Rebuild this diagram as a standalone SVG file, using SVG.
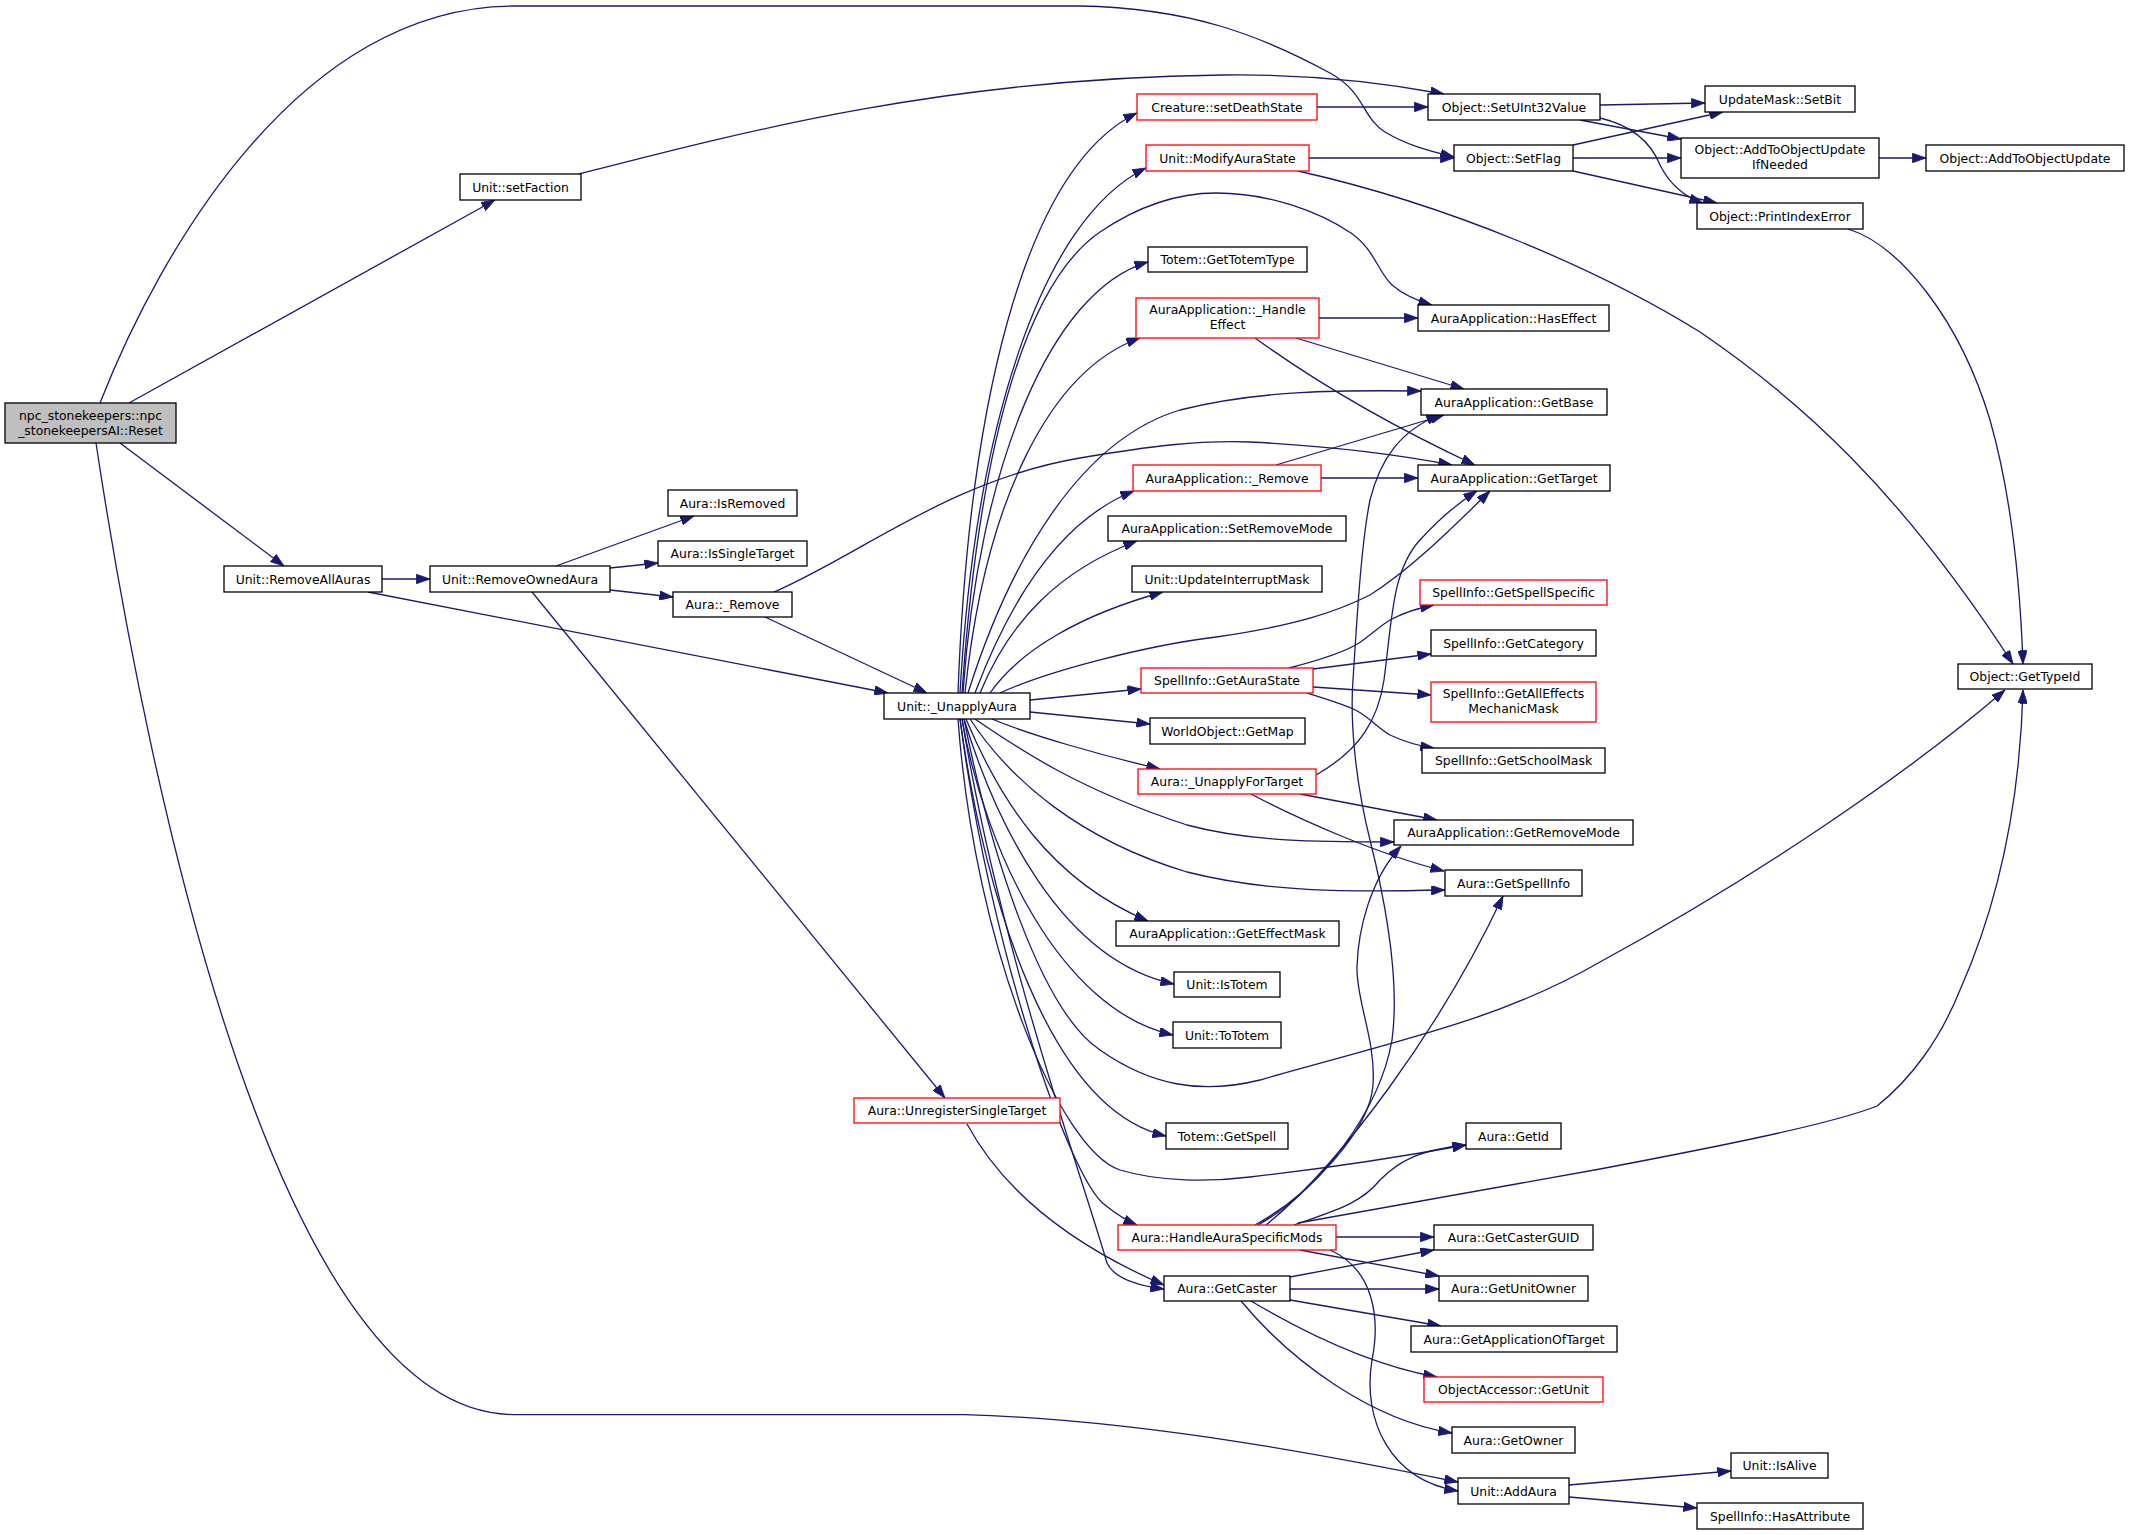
<svg xmlns="http://www.w3.org/2000/svg" width="2129" height="1535" viewBox="0 0 2129 1535">
<style>
.n rect{fill:#ffffff;stroke:#000000;stroke-width:1.3}
.n.r rect{stroke:#ff0000}
.n.root rect{fill:#bfbfbf}
.n text{font-family:"DejaVu Sans",sans-serif;font-size:12.4px;text-anchor:middle;fill:#000000}
#edges path{fill:none;stroke:#191970;stroke-width:1.3;marker-end:url(#a)}
</style>
<defs>
<marker id="a" viewBox="0 0 13.6 9.5" refX="13.6" refY="4.75" markerWidth="13.6" markerHeight="9.5" markerUnits="userSpaceOnUse" orient="auto">
<path d="M0,0 L13.6,4.75 L0,9.5 z" fill="#191970" stroke="#191970" stroke-width="0.8"/>
</marker>
</defs>
<rect x="0" y="0" width="2129" height="1535" fill="#ffffff"/>
<g id="edges">
<path d="M100,403 C160,250 300,6 514,6 L1080,6 C1190,8 1260,35 1330,73 C1365,92 1362,118 1385,132 C1405,144 1425,150 1454,157"/>
<path d="M129,403 L495,200"/>
<path d="M120,443 L284,566"/>
<path d="M96,443 C150,800 280,1414.6 514,1414.6 L965,1414.6 C1150,1420 1350,1460 1458,1482"/>
<path d="M579,174 C750,130 950,78 1223,75 C1300,74 1380,82 1444,94"/>
<path d="M382,579 L430,579"/>
<path d="M368,592 L888,693"/>
<path d="M556,566 L694,516"/>
<path d="M610,568 L658,563"/>
<path d="M610,590 L673,597"/>
<path d="M532,592 L945,1098"/>
<path d="M765,617 L927,693"/>
<path d="M774,592 C860,555 950,480 1080,458 C1150,446 1200,440 1250,442 C1330,446 1400,455 1452,465"/>
<path d="M958,693 C968,420 1020,170 1137,113"/>
<path d="M960,693 C975,430 1040,220 1146,168"/>
<path d="M962,693 C980,430 1030,280 1100,232 C1140,205 1180,193 1216,193 C1270,193 1320,212 1351,233 C1375,250 1378,272 1392,285 C1405,296 1418,301 1432,305"/>
<path d="M963,693 C978,470 1050,290 1148,262"/>
<path d="M965,693 C985,500 1050,370 1140,338"/>
<path d="M968,693 C1010,560 1080,440 1180,410 C1260,390 1340,390 1421,391"/>
<path d="M975,693 C1010,600 1060,520 1134,491"/>
<path d="M980,693 C1010,620 1060,570 1137,541"/>
<path d="M990,693 C1020,650 1080,615 1163,592"/>
<path d="M1000,693 C1050,670 1150,645 1216,637 C1300,625 1340,610 1370,595 C1410,570 1450,530 1490,491"/>
<path d="M1030,700 L1141,689"/>
<path d="M1030,712 L1150,724"/>
<path d="M992,719 C1030,735 1100,755 1160,769"/>
<path d="M975,719 C1020,750 1080,790 1187,825 C1250,842 1320,842 1394,842"/>
<path d="M970,719 C1010,780 1080,840 1187,872 C1270,893 1350,892 1445,890"/>
<path d="M966,719 C1000,800 1050,880 1148,921"/>
<path d="M964,719 C995,820 1060,960 1174,984"/>
<path d="M962,719 C985,850 1060,1010 1173,1035"/>
<path d="M960,719 C985,900 1050,1110 1166,1136"/>
<path d="M958,719 C975,950 1060,1150 1120,1170 C1160,1182 1210,1182 1250,1177 C1330,1168 1400,1157 1466,1145"/>
<path d="M960,719 C990,950 1070,1180 1105,1205 C1115,1213 1125,1220 1137,1225"/>
<path d="M962,719 C1000,950 1080,1170 1107,1263 C1115,1280 1140,1286 1164,1289"/>
<path d="M964,719 C990,850 1040,1010 1100,1050 C1150,1085 1200,1095 1260,1080 C1400,1040 1500,1020 1600,962 C1750,880 1900,780 2005,690"/>
<path d="M1300,794 L1437,820"/>
<path d="M1251,794 C1300,820 1380,855 1444,871"/>
<path d="M1316,775 C1360,750 1378,720 1384,680 C1392,620 1392,570 1420,540 C1440,518 1458,503 1477,491"/>
<path d="M1258,1225 C1320,1190 1380,1110 1392,1040 C1400,980 1385,900 1370,840 C1355,780 1350,720 1353,680 C1358,600 1362,540 1370,500 C1380,460 1400,430 1440,415"/>
<path d="M1255,1225 C1310,1195 1370,1130 1373,1085 C1376,1040 1356,1000 1357,967 C1358,930 1370,880 1401,846"/>
<path d="M1266,1225 C1340,1165 1440,1030 1503,896"/>
<path d="M1294,1225 C1330,1212 1360,1205 1380,1180 C1400,1160 1420,1150 1466,1145"/>
<path d="M1298,1223 L1600,1169 C1700,1150 1830,1125 1877,1106 C1910,1080 1940,1040 1960,990 C2000,900 2020,800 2023,690"/>
<path d="M1330,1250 C1375,1270 1380,1320 1372,1360 C1362,1420 1390,1480 1458,1491"/>
<path d="M1336,1237 L1434,1237"/>
<path d="M1300,1250 L1439,1276"/>
<path d="M1290,1277 L1434,1250"/>
<path d="M1290,1289 L1439,1289"/>
<path d="M1290,1300 L1441,1326"/>
<path d="M1251,1301 C1300,1330 1370,1365 1437,1377"/>
<path d="M1241,1301 C1290,1360 1370,1420 1452,1433"/>
<path d="M967,1124 C1000,1185 1060,1240 1164,1285"/>
<path d="M1569,1485 L1731,1471"/>
<path d="M1569,1497 L1697,1508"/>
<path d="M1317,107 L1428,107"/>
<path d="M1309,158 L1454,158"/>
<path d="M1298,171 C1450,205 1600,270 1700,332 C1800,400 1900,490 2013,664"/>
<path d="M1600,105 L1705,103"/>
<path d="M1580,120 L1681,139"/>
<path d="M1600,118 C1630,125 1650,140 1660,165 C1670,185 1685,197 1703,203"/>
<path d="M1573,145 L1723,112"/>
<path d="M1573,158 L1681,158"/>
<path d="M1573,171 L1717,203"/>
<path d="M1879,158 L1926,158"/>
<path d="M1848,229 C1900,245 1960,320 1990,420 C2010,490 2020,580 2023,664"/>
<path d="M1319,318 L1418,318"/>
<path d="M1296,338 L1464,389"/>
<path d="M1255,338 C1320,385 1400,430 1475,465"/>
<path d="M1321,478 L1418,478"/>
<path d="M1276,465 L1444,415"/>
<path d="M1289,668 C1320,660 1345,652 1359,643 C1372,634 1380,626 1390,620 C1405,612 1418,608 1434,605"/>
<path d="M1313,669 L1431,654"/>
<path d="M1313,687 L1431,695"/>
<path d="M1307,693 C1330,700 1350,706 1359,712 C1372,720 1378,728 1390,735 C1405,742 1418,746 1434,748"/>
</g>
<g id="n1" class="n root"><rect x="5" y="403" width="171" height="40"/><text x="90.5" y="419.5">npc_stonekeepers::npc</text><text x="90.5" y="434.5">_stonekeepersAI::Reset</text></g>
<g id="n2" class="n"><rect x="460" y="174" width="121" height="26"/><text x="520.5" y="191.5">Unit::setFaction</text></g>
<g id="n3" class="n"><rect x="224" y="566" width="158" height="26"/><text x="303" y="583.5">Unit::RemoveAllAuras</text></g>
<g id="n4" class="n"><rect x="430" y="566" width="180" height="26"/><text x="520" y="583.5">Unit::RemoveOwnedAura</text></g>
<g id="n5" class="n"><rect x="668" y="490" width="129" height="26"/><text x="732.5" y="507.5">Aura::IsRemoved</text></g>
<g id="n6" class="n"><rect x="658" y="541" width="149" height="25"/><text x="732.5" y="558">Aura::IsSingleTarget</text></g>
<g id="n7" class="n"><rect x="673" y="592" width="119" height="25"/><text x="732.5" y="609">Aura::_Remove</text></g>
<g id="n8" class="n"><rect x="884" y="693" width="146" height="26"/><text x="957" y="710.5">Unit::_UnapplyAura</text></g>
<g id="n9" class="n r"><rect x="854" y="1098" width="206" height="25"/><text x="957" y="1115">Aura::UnregisterSingleTarget</text></g>
<g id="n10" class="n r"><rect x="1137" y="94" width="180" height="26"/><text x="1227" y="111.5">Creature::setDeathState</text></g>
<g id="n11" class="n r"><rect x="1146" y="145" width="163" height="26"/><text x="1227.5" y="162.5">Unit::ModifyAuraState</text></g>
<g id="n12" class="n"><rect x="1148" y="247" width="159" height="25"/><text x="1227.5" y="264">Totem::GetTotemType</text></g>
<g id="n13" class="n r"><rect x="1136" y="298" width="183" height="40"/><text x="1227.5" y="314">AuraApplication::_Handle</text><text x="1227.5" y="329">Effect</text></g>
<g id="n14" class="n r"><rect x="1133" y="465" width="188" height="26"/><text x="1227" y="482.5">AuraApplication::_Remove</text></g>
<g id="n15" class="n"><rect x="1108" y="516" width="238" height="25"/><text x="1227" y="533">AuraApplication::SetRemoveMode</text></g>
<g id="n16" class="n"><rect x="1132" y="566" width="190" height="26"/><text x="1227" y="583.5">Unit::UpdateInterruptMask</text></g>
<g id="n17" class="n r"><rect x="1141" y="668" width="172" height="25"/><text x="1227" y="685">SpellInfo::GetAuraState</text></g>
<g id="n18" class="n"><rect x="1150" y="718" width="155" height="26"/><text x="1227.5" y="735.5">WorldObject::GetMap</text></g>
<g id="n19" class="n r"><rect x="1138" y="769" width="178" height="25"/><text x="1227" y="786">Aura::_UnapplyForTarget</text></g>
<g id="n20" class="n"><rect x="1116" y="921" width="223" height="25"/><text x="1227.5" y="938">AuraApplication::GetEffectMask</text></g>
<g id="n21" class="n"><rect x="1174" y="972" width="106" height="25"/><text x="1227" y="989">Unit::IsTotem</text></g>
<g id="n22" class="n"><rect x="1173" y="1022" width="108" height="26"/><text x="1227" y="1039.5">Unit::ToTotem</text></g>
<g id="n23" class="n"><rect x="1166" y="1123" width="122" height="26"/><text x="1227" y="1140.5">Totem::GetSpell</text></g>
<g id="n24" class="n r"><rect x="1118" y="1225" width="218" height="25"/><text x="1227" y="1242">Aura::HandleAuraSpecificMods</text></g>
<g id="n25" class="n"><rect x="1164" y="1276" width="126" height="25"/><text x="1227" y="1293">Aura::GetCaster</text></g>
<g id="n26" class="n"><rect x="1428" y="94" width="172" height="26"/><text x="1514" y="111.5">Object::SetUInt32Value</text></g>
<g id="n27" class="n"><rect x="1454" y="145" width="119" height="26"/><text x="1513.5" y="162.5">Object::SetFlag</text></g>
<g id="n28" class="n"><rect x="1418" y="305" width="191" height="26"/><text x="1513.5" y="322.5">AuraApplication::HasEffect</text></g>
<g id="n29" class="n"><rect x="1421" y="389" width="186" height="26"/><text x="1514" y="406.5">AuraApplication::GetBase</text></g>
<g id="n30" class="n"><rect x="1418" y="465" width="192" height="26"/><text x="1514" y="482.5">AuraApplication::GetTarget</text></g>
<g id="n31" class="n r"><rect x="1420" y="580" width="187" height="25"/><text x="1513.5" y="597">SpellInfo::GetSpellSpecific</text></g>
<g id="n32" class="n"><rect x="1431" y="630" width="165" height="26"/><text x="1513.5" y="647.5">SpellInfo::GetCategory</text></g>
<g id="n33" class="n r"><rect x="1431" y="682" width="165" height="40"/><text x="1513.5" y="698">SpellInfo::GetAllEffects</text><text x="1513.5" y="713">MechanicMask</text></g>
<g id="n34" class="n"><rect x="1422" y="748" width="183" height="25"/><text x="1513.5" y="765">SpellInfo::GetSchoolMask</text></g>
<g id="n35" class="n"><rect x="1394" y="820" width="239" height="25"/><text x="1513.5" y="837">AuraApplication::GetRemoveMode</text></g>
<g id="n36" class="n"><rect x="1445" y="870" width="137" height="26"/><text x="1513.5" y="887.5">Aura::GetSpellInfo</text></g>
<g id="n37" class="n"><rect x="1466" y="1123" width="95" height="26"/><text x="1513.5" y="1140.5">Aura::GetId</text></g>
<g id="n38" class="n"><rect x="1434" y="1225" width="159" height="25"/><text x="1513.5" y="1242">Aura::GetCasterGUID</text></g>
<g id="n39" class="n"><rect x="1439" y="1276" width="149" height="25"/><text x="1513.5" y="1293">Aura::GetUnitOwner</text></g>
<g id="n40" class="n"><rect x="1411" y="1326" width="206" height="26"/><text x="1514" y="1343.5">Aura::GetApplicationOfTarget</text></g>
<g id="n41" class="n r"><rect x="1424" y="1377" width="179" height="25"/><text x="1513.5" y="1394">ObjectAccessor::GetUnit</text></g>
<g id="n42" class="n"><rect x="1452" y="1427" width="123" height="26"/><text x="1513.5" y="1444.5">Aura::GetOwner</text></g>
<g id="n43" class="n"><rect x="1458" y="1478" width="111" height="26"/><text x="1513.5" y="1495.5">Unit::AddAura</text></g>
<g id="n44" class="n"><rect x="1705" y="86" width="150" height="26"/><text x="1780" y="103.5">UpdateMask::SetBit</text></g>
<g id="n45" class="n"><rect x="1681" y="138" width="198" height="40"/><text x="1780" y="154">Object::AddToObjectUpdate</text><text x="1780" y="169">IfNeeded</text></g>
<g id="n46" class="n"><rect x="1697" y="203" width="166" height="26"/><text x="1780" y="220.5">Object::PrintIndexError</text></g>
<g id="n47" class="n"><rect x="1731" y="1453" width="97" height="25"/><text x="1779.5" y="1470">Unit::IsAlive</text></g>
<g id="n48" class="n"><rect x="1697" y="1503" width="166" height="26"/><text x="1780" y="1520.5">SpellInfo::HasAttribute</text></g>
<g id="n49" class="n"><rect x="1958" y="664" width="134" height="25"/><text x="2025" y="681">Object::GetTypeId</text></g>
<g id="n50" class="n"><rect x="1926" y="145" width="198" height="26"/><text x="2025" y="162.5">Object::AddToObjectUpdate</text></g>
</svg>
